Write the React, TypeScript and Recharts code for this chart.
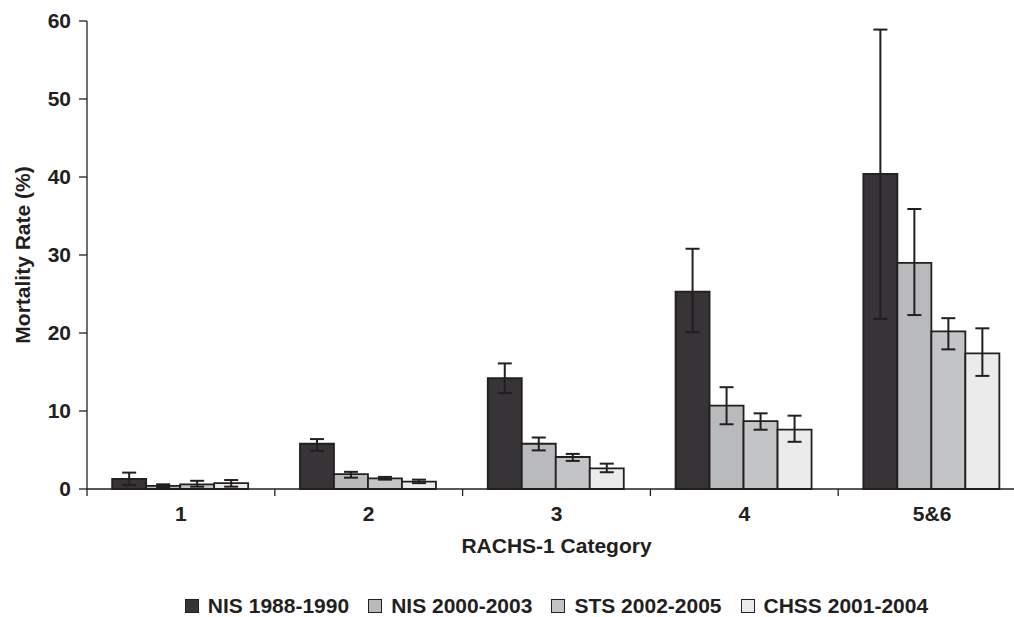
import { BarChart, Bar, XAxis, YAxis, ErrorBar, Legend } from 'recharts';

const categories = ['1', '2', '3', '4', '5&6'];

const nis1988 = [1.3, 5.8, 14.2, 25.3, 40.4];
const nis1988Low = [0.5, 4.9, 12.3, 20.1, 21.8];
const nis1988High = [2.1, 6.4, 16.1, 30.8, 58.9];

const nis2000 = [0.4, 1.9, 5.8, 10.7, 29.0];
const nis2000Low = [0.25, 1.45, 4.95, 8.3, 22.3];
const nis2000High = [0.6, 2.2, 6.6, 13.05, 35.9];

const sts2002 = [0.6, 1.35, 4.1, 8.7, 20.2];
const sts2002Low = [0.3, 1.2, 3.6, 7.6, 17.9];
const sts2002High = [1.05, 1.55, 4.5, 9.7, 21.9];

const chss2001 = [0.75, 0.95, 2.65, 7.6, 17.4];
const chss2001Low = [0.3, 0.75, 2.15, 6.05, 14.5];
const chss2001High = [1.15, 1.2, 3.25, 9.4, 20.6];

const yTicks = [0, 10, 20, 30, 40, 50, 60];

const series = [
  { key: 'nis1988', name: 'NIS 1988-1990', color: '#363436', values: nis1988, low: nis1988Low, high: nis1988High },
  { key: 'nis2000', name: 'NIS 2000-2003', color: '#b9babc', values: nis2000, low: nis2000Low, high: nis2000High },
  { key: 'sts2002', name: 'STS 2002-2005', color: '#c3c4c6', values: sts2002, low: sts2002Low, high: sts2002High },
  { key: 'chss2001', name: 'CHSS 2001-2004', color: '#eaebea', values: chss2001, low: chss2001Low, high: chss2001High },
];

const INK = '#231f20';
const FONT = '"Liberation Sans", Arial, sans-serif';

// error values as [minus, plus] deltas for ErrorBar
const data = categories.map((cat, i) => {
  const row: any = { cat };
  series.forEach((s) => {
    row[s.key] = s.values[i];
    row[s.key + 'Err'] = [s.values[i] - s.low[i], s.high[i] - s.values[i]];
  });
  return row;
});

function CategoryTick(props: any) {
  const { x, y, payload, index, visibleTicksCount } = props;
  const half = payload.offset ?? 0;
  return (
    <g>
      <line x1={x - half} x2={x - half} y1={y - 17} y2={y - 10} stroke={INK} strokeWidth={1.3} />
      {index === visibleTicksCount - 1 && (
        <line x1={x + half} x2={x + half} y1={y - 17} y2={y - 10} stroke={INK} strokeWidth={1.3} />
      )}
      <text x={x} y={y} dy="0.71em" textAnchor="middle" fill={INK} fontSize={21} fontWeight="bold" fontFamily={FONT}>
        {payload.value}
      </text>
    </g>
  );
}

function LegendContent() {
  return (
    <div style={{ display: 'flex', justifyContent: 'center', alignItems: 'center', height: 22, fontFamily: FONT, fontSize: 21, fontWeight: 'bold', color: INK, whiteSpace: 'nowrap' }}>
      {series.map((s, i) => (
        <div key={s.key} style={{ display: 'flex', alignItems: 'center', marginLeft: i === 0 ? 0 : 19 }}>
          <span style={{ display: 'inline-block', width: 12, height: 12, background: s.color, border: `1.5px solid ${INK}`, marginRight: 9 }} />
          <span style={{ lineHeight: '22px' }}>{s.name}</span>
        </div>
      ))}
    </div>
  );
}

export default function App() {
  return (
    <div style={{ position: 'absolute', left: 0, top: 0, width: 1014, height: 617, overflow: 'hidden', background: '#fff' }}>
      <BarChart
        width={1030}
        height={617}
        data={data}
        margin={{ top: 21, right: 4, left: 0, bottom: 0 }}
        barGap={0}
        barCategoryGap="13.4%"
      >
        <XAxis
          dataKey="cat"
          height={106}
          axisLine={{ stroke: INK, strokeWidth: 1.3 }}
          tickLine={false}
          tickSize={7}
          tickMargin={10}
          tick={<CategoryTick />}
          interval={0}
          label={{
            value: 'RACHS-1 Category',
            position: 'insideTop',
            offset: 49,
            fill: INK,
            fontSize: 21,
            fontWeight: 'bold',
            fontFamily: FONT,
          }}
        />
        <YAxis
          width={87}
          domain={[0, 60]}
          ticks={yTicks}
          interval={0}
          axisLine={{ stroke: INK, strokeWidth: 1.3 }}
          tickLine={{ stroke: INK, strokeWidth: 1.3 }}
          tickSize={8}
          tickMargin={8}
          tick={{ fill: INK, fontSize: 21, fontWeight: 'bold', fontFamily: FONT }}
          label={{
            content: (p: any) => {
              const vb = p.viewBox;
              const cx = vb.x + 22;
              const cy = vb.y + vb.height / 2;
              return (
                <text
                  x={cx}
                  y={cy}
                  transform={`rotate(-90, ${cx}, ${cy})`}
                  textAnchor="middle"
                  dominantBaseline="central"
                  fill={INK}
                  fontSize={21}
                  fontWeight="bold"
                  fontFamily={FONT}
                >
                  Mortality Rate (%)
                </text>
              );
            },
          }}
        />
        <Legend
          verticalAlign="bottom"
          height={22}
          content={<LegendContent />}
          wrapperStyle={{ left: 87, width: 939, bottom: 0 }}
        />
        {series.map((s) => (
          <Bar key={s.key} dataKey={s.key} name={s.name} fill={s.color} stroke={INK} strokeWidth={1.8} isAnimationActive={false}>
            <ErrorBar dataKey={s.key + 'Err'} width={7} stroke={INK} strokeWidth={2} direction="y" />
          </Bar>
        ))}
      </BarChart>
    </div>
  );
}
